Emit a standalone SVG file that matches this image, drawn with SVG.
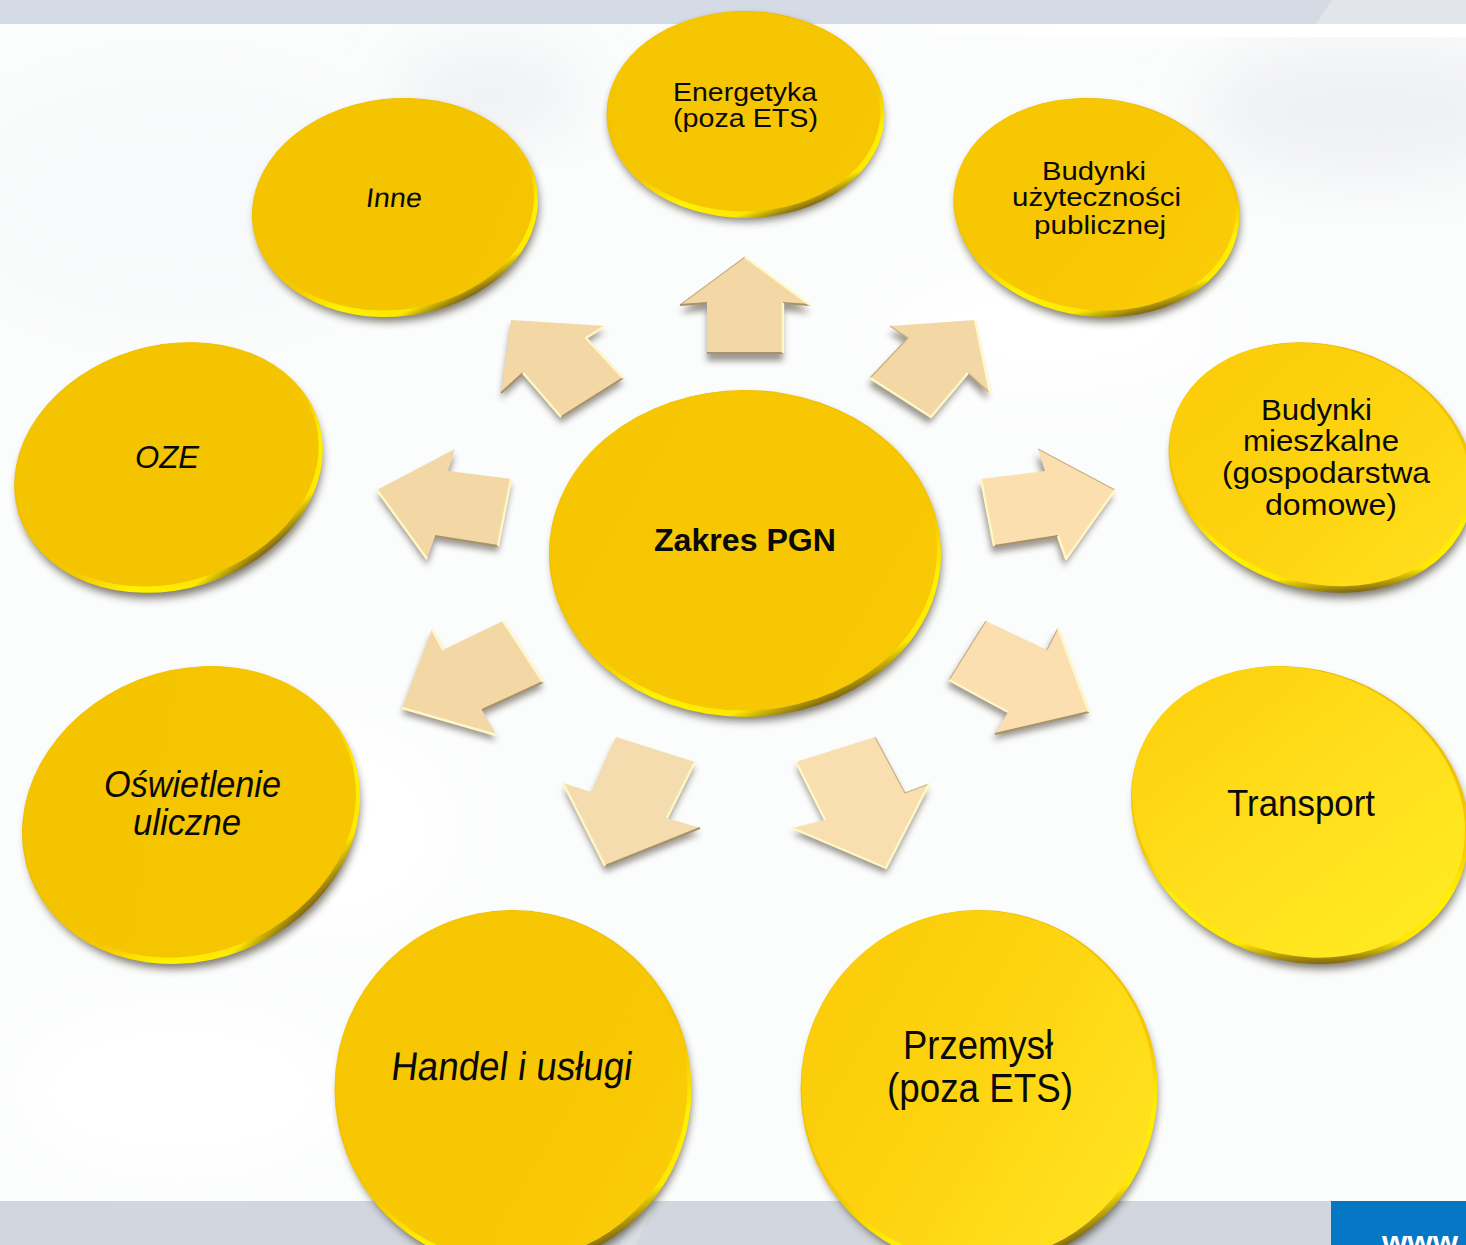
<svg xmlns="http://www.w3.org/2000/svg" width="1466" height="1245" viewBox="0 0 1466 1245">
<style>
text{font-family:"Liberation Sans",Arial,sans-serif;fill:#0a0a0a;text-anchor:start}
.i{font-style:italic}
.rim{fill:url(#gr)}
.sh{fill:#2e2818;opacity:.62;filter:url(#blur6)}
.main{fill:url(#g1)}
.face{fill:#f3d8a6}
.as{fill:#3f3625;opacity:.5;filter:url(#blur3)}
.el{fill:none;stroke:#fff8c6;stroke-width:2.4;stroke-linejoin:round}
.ed{fill:none;stroke:#a8926a;stroke-width:2;stroke-linejoin:round}
.et{fill:none;stroke:#c9b083;stroke-width:1.2;stroke-linejoin:round}
</style>
<defs>
<filter id="blur3" x="-20%" y="-20%" width="140%" height="140%"><feGaussianBlur stdDeviation="3"/></filter>
<filter id="blur6" x="-20%" y="-20%" width="140%" height="140%"><feGaussianBlur stdDeviation="4"/></filter>
<filter id="cloud" x="-30%" y="-30%" width="160%" height="160%"><feGaussianBlur stdDeviation="30"/></filter>
<linearGradient id="g1" gradientUnits="userSpaceOnUse" x1="300" y1="300" x2="1466" y2="1000"><stop offset="0" stop-color="#f4c400"/><stop offset=".5" stop-color="#f9c805"/><stop offset=".7" stop-color="#fdd20f"/><stop offset=".83" stop-color="#ffdf1c"/><stop offset=".97" stop-color="#ffec22"/></linearGradient>
<linearGradient id="gr" x1=".25" y1="0" x2=".75" y2="1"><stop offset="0" stop-color="#e8b800"/><stop offset=".6" stop-color="#f6c800"/><stop offset=".75" stop-color="#fff200"/><stop offset=".88" stop-color="#ffe800"/><stop offset=".95" stop-color="#7a6010"/></linearGradient>
<linearGradient id="wb" x1="0" x2="1" y1="0" y2="0"><stop offset="0" stop-color="#fff" stop-opacity="0"/><stop offset=".4" stop-color="#fff"/></linearGradient>
<polygon id="a1" points="745,257 810,305 783,303 783,353 707,353 707,303 680,305"/>
<polygon id="a2" points="975,320 890,326 908,338 870,378 931,417 968,373 990,393"/>
<polygon id="a3" points="1115,490 1038,449 1045,471 981,479 994,546 1058,536 1066,559"/>
<polygon id="a4" points="1089,712 1058,628 1047,650 986,621 949,680 1008,712 995,734"/>
<polygon id="a5" points="886,868 929,784 905,793 875,737 796,762 825,820 792,828"/>
<polygon id="a6" points="605,866 700,828 667,818 695,762 616,737 591,792 563,783"/>
<polygon id="a7" points="402,708 432,629 443,650 503,621 543,682 482,710 496,735"/>
<polygon id="a8" points="377,490 455,449 448,471 511,479 498,546 435,536 427,559"/>
<polygon id="a9" points="511,320 605,326 586,338 623,378 561,417 523,373 501,393"/>
</defs>

<g id="background">
<rect width="1466" height="1245" fill="#fbfcfc"/>
<ellipse cx="180" cy="200" rx="230" ry="120" fill="#f8f9fa" filter="url(#cloud)"/>
<ellipse cx="1370" cy="110" rx="170" ry="70" fill="#f0f1f3" filter="url(#cloud)"/>
<ellipse cx="490" cy="95" rx="90" ry="45" fill="#eff1f3" filter="url(#cloud)"/>
<ellipse cx="1050" cy="330" rx="170" ry="60" fill="#ffffff" filter="url(#cloud)"/>
<ellipse cx="180" cy="1090" rx="170" ry="90" fill="#ffffff" filter="url(#cloud)"/>
<ellipse cx="330" cy="830" rx="130" ry="110" fill="#ffffff" filter="url(#cloud)"/>
<rect y="0" width="1466" height="24" fill="#d4dbe4"/>
<polygon points="1332,0 1466,0 1466,24 1316,24" fill="#e2e5e9"/>
<rect x="800" y="24" width="666" height="13" fill="url(#wb)"/>
<rect y="1201" width="1331" height="44" fill="#d2d7df"/>
<polygon points="640,1201 655,1201 636,1245 620,1245" fill="#dadee5"/>
<rect x="1331" y="1201" width="135" height="44" fill="#0577c4"/>
<text x="1382" y="1252" font-size="30" font-weight="700" style="fill:#fff" textLength="76" lengthAdjust="spacingAndGlyphs">www</text>
</g>

<g id="connectors">
<g id="arrow-n"><use href="#a1" class="as" transform="translate(0,8)"/><use href="#a1" class="face"/><path class="et" d="M680,305 745,257"/><path class="ed" d="M680,305 707,303M783,303 810,305M707,353H783"/><path class="el" d="M745,257 810,305M783,303V353"/></g>
<g id="arrow-ne"><use href="#a2" class="as" transform="translate(-2,7)"/><use href="#a2" class="face"/><path class="et" d="M890,326 908,338 870,378M968,373 990,393"/><path class="el" d="M975,320 990,393M870,378 931,417 968,373"/></g>
<g id="arrow-e"><use href="#a3" class="as" transform="translate(-2,7)"/><use href="#a3" class="face" style="fill:#fbdfae"/><path class="ed" d="M994,546 1058,536"/><path class="et" d="M1115,490 1038,449"/><path class="el" d="M981,479 994,546M1058,536 1066,559 1115,490"/></g>
<g id="arrow-se"><use href="#a4" class="as" transform="translate(-2,6)"/><use href="#a4" class="face" style="fill:#fbdfb0"/><path class="ed" d="M995,734 1089,712"/><path class="et" d="M986,621 949,680M1058,628 1047,650"/><path class="el" d="M1058,628 1089,712M949,680 1008,712"/></g>
<g id="arrow-s2"><use href="#a5" class="as" transform="translate(0,6)"/><use href="#a5" class="face" style="fill:#f9dfb0"/><path class="et" d="M875,737 905,793 929,784"/><path class="el" d="M792,828 886,868 929,784M796,762 825,820"/></g>
<g id="arrow-s1"><use href="#a6" class="as" transform="translate(0,6)"/><use href="#a6" class="face" style="fill:#f5dcae"/><path class="ed" d="M605,866 700,828"/><path class="el" d="M563,783 605,866M695,762 667,818"/></g>
<g id="arrow-sw"><use href="#a7" class="as" transform="translate(0,6)"/><use href="#a7" class="face"/><path class="ed" d="M543,682 482,710"/><path class="el" d="M503,621 543,682M402,708 496,735M432,629 443,650"/></g>
<g id="arrow-w"><use href="#a8" class="as" transform="translate(0,6)"/><use href="#a8" class="face"/><path class="ed" d="M498,546 435,536"/><path class="el" d="M511,479 498,546M377,490 427,559"/></g>
<g id="arrow-nw"><use href="#a9" class="as" transform="translate(0,6)"/><use href="#a9" class="face"/><path class="ed" d="M623,378 561,417M523,373 501,393"/><path class="el" d="M605,326 586,338 623,378M561,417 523,373"/></g>
</g>

<g id="node-energetyka">
<ellipse class="sh" cx="746" cy="119" rx="137" ry="102"/><ellipse class="rim" cx="745.500" cy="114.500" rx="139" ry="103.500"/><ellipse class="main" cx="744" cy="111.500" rx="136.500" ry="100"/>
<text x="673" y="101" font-size="26" textLength="144" lengthAdjust="spacingAndGlyphs">Energetyka</text>
<text x="673" y="127" font-size="26" textLength="145" lengthAdjust="spacingAndGlyphs">(poza ETS)</text>
</g>
<g id="node-budynki-uzytecznosci">
<ellipse class="sh" cx="1098" cy="213" rx="142" ry="108" transform="rotate(7 1098 213)"/><ellipse class="rim" cx="1096.500" cy="207.500" rx="143.500" ry="109" transform="rotate(7 1096.500 207.500)"/><ellipse class="main" cx="1095" cy="204.500" rx="141" ry="105.500" transform="rotate(7 1095 204.500)"/>
<text x="1042" y="180" font-size="26" textLength="104" lengthAdjust="spacingAndGlyphs">Budynki</text>
<text x="1012" y="206" font-size="26" textLength="169" lengthAdjust="spacingAndGlyphs">użyteczności</text>
<text x="1034" y="234" font-size="26" textLength="132" lengthAdjust="spacingAndGlyphs">publicznej</text>
</g>
<g id="node-inne">
<ellipse class="sh" cx="397" cy="213" rx="142" ry="108" transform="rotate(-7 397 213)"/><ellipse class="rim" cx="395" cy="207.500" rx="143.500" ry="109" transform="rotate(-7 395 207.500)"/><ellipse class="main" cx="393.500" cy="204.500" rx="141" ry="105.500" transform="rotate(-7 393.500 204.500)"/>
<text transform="translate(365,207) skewX(-7)" font-size="27" textLength="56" lengthAdjust="spacingAndGlyphs">Inne</text>
</g>
<g id="node-budynki-mieszkalne">
<ellipse class="sh" cx="1323" cy="474" rx="153" ry="121" transform="rotate(17 1323 474)"/><ellipse class="rim" cx="1321" cy="467.500" rx="155" ry="122" transform="rotate(17 1321 467.500)"/><ellipse class="main" cx="1319.500" cy="464.500" rx="152.500" ry="118.500" transform="rotate(17 1319.500 464.500)"/>
<text x="1261" y="420" font-size="29" textLength="111" lengthAdjust="spacingAndGlyphs">Budynki</text>
<text x="1243" y="451" font-size="29" textLength="156" lengthAdjust="spacingAndGlyphs">mieszkalne</text>
<text x="1222" y="483" font-size="29" textLength="208" lengthAdjust="spacingAndGlyphs">(gospodarstwa</text>
<text x="1265" y="515" font-size="29" textLength="132" lengthAdjust="spacingAndGlyphs">domowe)</text>
</g>
<g id="node-oze">
<ellipse class="sh" cx="170" cy="474" rx="155" ry="121" transform="rotate(-17 170 474)"/><ellipse class="rim" cx="168.500" cy="467.500" rx="157" ry="122" transform="rotate(-17 168.500 467.500)"/><ellipse class="main" cx="167" cy="464.500" rx="154.500" ry="118.500" transform="rotate(-17 167 464.500)"/>
<text class="i" x="135" y="468" font-size="32" textLength="64" lengthAdjust="spacingAndGlyphs">OZE</text>
</g>
<g id="node-oswietlenie">
<ellipse class="sh" cx="193" cy="821" rx="170" ry="144" transform="rotate(-21.500 193 821)"/><ellipse class="rim" cx="191" cy="815" rx="172.400" ry="145" transform="rotate(-21.500 191 815)"/><ellipse class="main" cx="189.500" cy="812" rx="170" ry="141.500" transform="rotate(-21.500 189.500 812)"/>
<text class="i" x="104" y="797" font-size="36" textLength="177" lengthAdjust="spacingAndGlyphs">Oświetlenie</text>
<text class="i" x="133" y="835" font-size="36" textLength="108" lengthAdjust="spacingAndGlyphs">uliczne</text>
</g>
<g id="node-transport">
<ellipse class="sh" cx="1302" cy="821" rx="170" ry="144" transform="rotate(21.500 1302 821)"/><ellipse class="rim" cx="1300" cy="815" rx="172.400" ry="145" transform="rotate(21.500 1300 815)"/><ellipse class="main" cx="1298.500" cy="812" rx="170" ry="141.500" transform="rotate(21.500 1298.500 812)"/>
<text x="1227" y="816" font-size="37" textLength="148" lengthAdjust="spacingAndGlyphs">Transport</text>
</g>
<g id="node-handel">
<ellipse class="sh" cx="515" cy="1095" rx="176" ry="177"/><ellipse class="rim" cx="513" cy="1089" rx="178.500" ry="179"/><ellipse class="main" cx="511.500" cy="1086" rx="176" ry="175.500"/>
<text transform="translate(390,1080) skewX(-7)" font-size="40" textLength="241" lengthAdjust="spacingAndGlyphs">Handel i usługi</text>
</g>
<g id="node-przemysl">
<ellipse class="sh" cx="981" cy="1095" rx="176" ry="177"/><ellipse class="rim" cx="979" cy="1089" rx="178.500" ry="179"/><ellipse class="main" cx="977.500" cy="1086" rx="176" ry="175.500"/>
<text x="903" y="1059" font-size="40" textLength="150" lengthAdjust="spacingAndGlyphs">Przemysł</text>
<text x="887" y="1102" font-size="40" textLength="186" lengthAdjust="spacingAndGlyphs">(poza ETS)</text>
</g>
<g id="node-zakres">
<ellipse class="sh" cx="747" cy="559" rx="194" ry="162"/><ellipse class="rim" cx="745" cy="553.500" rx="196" ry="163.500"/><ellipse class="main" cx="743.500" cy="550.500" rx="193.500" ry="160"/>
<text x="654" y="551" font-size="31" font-weight="700" textLength="182" lengthAdjust="spacingAndGlyphs">Zakres PGN</text>
</g>
</svg>
